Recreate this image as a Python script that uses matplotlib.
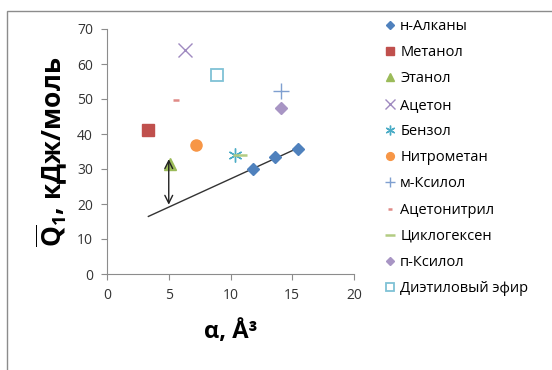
import matplotlib
matplotlib.use("Agg")
import matplotlib.pyplot as plt
from matplotlib.patches import Rectangle
import numpy as np

plt.rcParams['font.family'] = ['Open Sans', 'DejaVu Sans']
plt.rcParams['mathtext.fontset'] = 'custom'
plt.rcParams['mathtext.rm'] = 'Open Sans'
plt.rcParams['mathtext.bf'] = 'Open Sans:bold'

# ---- data ----
alk_x = [11.85, 13.6, 15.44]
alk_y = [30.0, 33.3, 35.8]

labels = ['н-Алканы', 'Метанол', 'Этанол', 'Ацетон', 'Бензол', 'Нитрометан',
          'м-Ксилол', 'Ацетонитрил', 'Циклогексен', 'п-Ксилол', 'Диэтиловый эфир']
pts_x = [alk_x, [3.35], [5.1], [6.3], [10.4], [7.2], [14.1], [5.6], [10.8], [14.1], [8.9]]
pts_y = [alk_y, [41.2], [31.5], [63.9], [34.1], [37.0], [52.3], [49.6], [34.0], [47.3], [56.9]]

trend_x = [3.35, 15.44]
arrow_x = 5.0
arrow_y = [19.8, 32.8]

xticks = [0, 5, 10, 15, 20]
yticks = [0, 10, 20, 30, 40, 50, 60, 70]

# ---- styles ----
styles = [
    dict(marker='D', color='#4F81BD', ms=6.5, mec='#4F81BD'),
    dict(marker='s', color='#C0504D', ms=8, mec='#C0504D'),
    dict(marker='^', color='#9BBB59', ms=8, mec='#9BBB59'),
    dict(marker='x', color='#9F8AC0', ms=10, mew=1.0),
    dict(marker=(6, 2, 0), color='#4BACC6', ms=10, mew=1.0),
    dict(marker='o', color='#F79646', ms=8, mec='#F79646'),
    dict(marker='+', color='#7F9FD0', ms=11, mew=1.0),
    dict(marker='_', color='#E08A87', ms=5, mew=1.8),
    dict(marker='_', color='#B3CC82', ms=10, mew=1.8),
    dict(marker='D', color='#A895C4', ms=6.5, mec='#A895C4'),
    dict(marker='s', color='white', ms=8, mec='#7FC2D6', mew=1.3),
]

fig = plt.figure(figsize=(5.52, 3.70), dpi=100)
ax = fig.add_axes([107/552, 1 - 274/370, (354-107)/552, (274-29)/370])

# outer frame
fig.patches.append(Rectangle((7/552, -0.1), 1.2, 1 - 11/370 + 0.1, transform=fig.transFigure,
                             fill=False, edgecolor='#8c8c8c', lw=1.0))

# trend line of alkanes
k, b = np.polyfit(alk_x, alk_y, 1)
tx = np.array(trend_x)
ax.plot(tx, k*tx + b, color='#333333', lw=1.0, zorder=2)

handles = []
for lab, xs, ys, st in zip(labels, pts_x, pts_y, styles):
    h, = ax.plot(xs, ys, linestyle='none', label=lab, zorder=3, **st)
    handles.append(h)

ax.annotate('', xy=(arrow_x, arrow_y[1]), xytext=(arrow_x, arrow_y[0]),
            arrowprops=dict(arrowstyle='<->', color='#222222', lw=1.0,
                            mutation_scale=14, shrinkA=0, shrinkB=0), zorder=4)

ax.set_xlim(0, 20)
ax.set_ylim(0, 70)
ax.set_xticks(xticks)
ax.set_yticks(yticks)
for s in ['top', 'right']:
    ax.spines[s].set_visible(False)
for s in ['left', 'bottom']:
    ax.spines[s].set_color('#8c8c8c')
ax.tick_params(direction='out', length=4, color='#8c8c8c', labelsize=10,
               labelcolor='#333333', pad=6)

ax.set_xlabel('α, Å³', fontsize=17, fontweight='bold', labelpad=12)
ax.set_ylabel(r'$\overline{\mathbf{Q}}_\mathbf{1}$, кДж/моль', fontsize=19, fontweight='bold', labelpad=5)

fig.legend(handles=handles, loc='upper left', bbox_to_anchor=(382/552, 1 - 19/370),
           frameon=False, fontsize=10.5, labelspacing=0.77, handletextpad=0.15,
           handlelength=1.1, borderaxespad=0, borderpad=0, markerscale=0.7)

fig.savefig('out.png', dpi=100)
